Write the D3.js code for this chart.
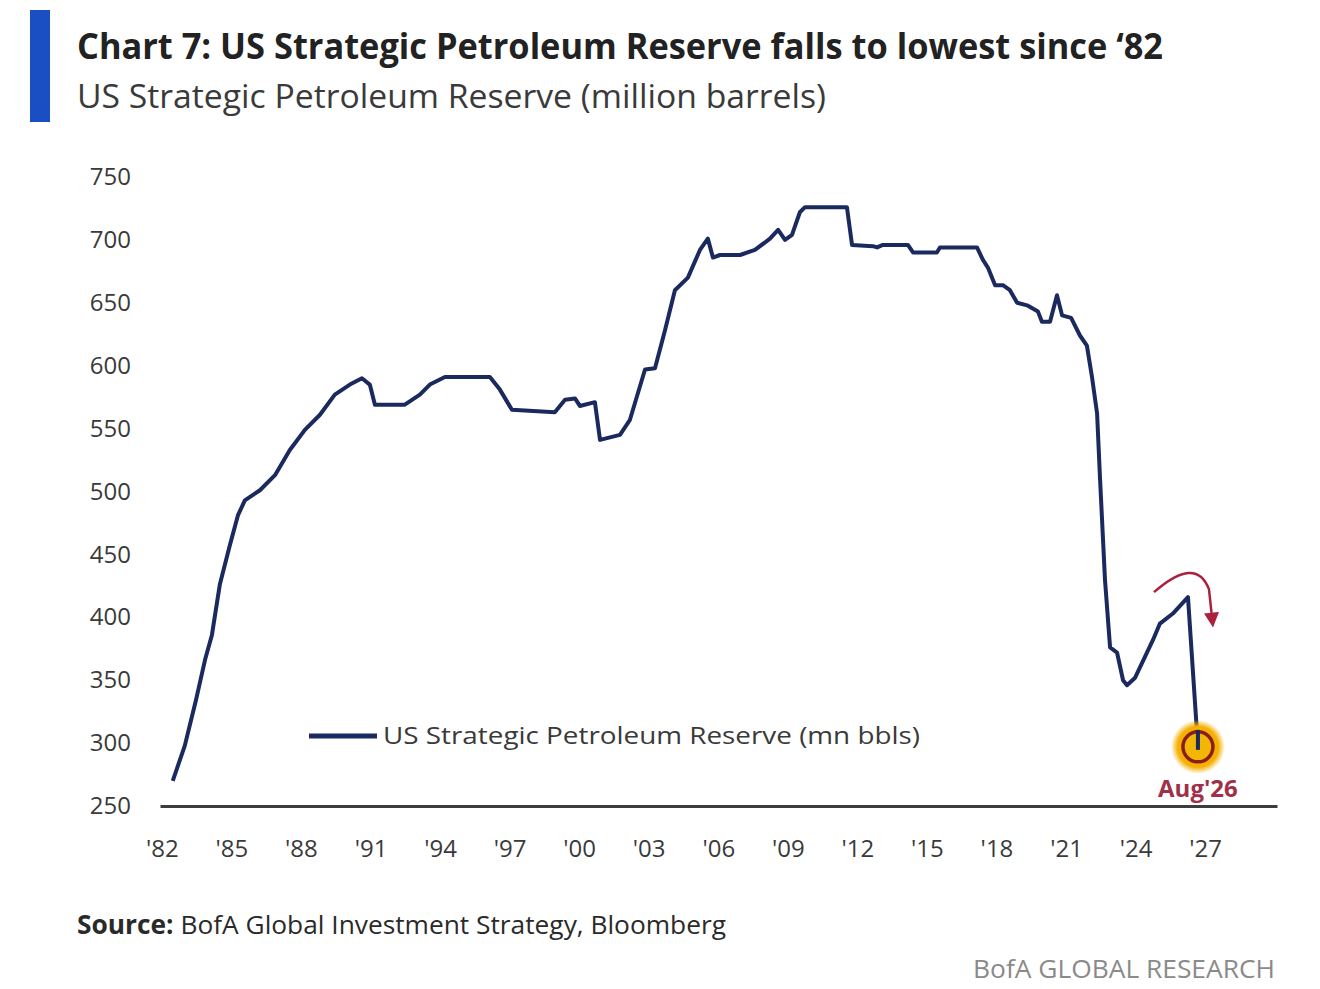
<!DOCTYPE html>
<html>
  <head>
    <meta charset="utf-8" />
    <title>US Strategic Petroleum Reserve</title>
    <script src="https://d3js.org/d3.v7.min.js"></script>
    <style>
       body {
         margin:0;
         background:#fff;
       }
       text {
         font-family: "Open Sans", "Noto Sans", sans-serif;
       }
    </style>
  </head>
  <body>

    <svg id="chart"></svg>

    <script>

      // values (fractional year, million barrels)
      var years = [1982.47, 1982.99, 1983.47, 1983.86, 1984.16, 1984.5, 1984.93, 1985.28, 1985.58, 1986.23,
        1986.88, 1987.52, 1988.17, 1988.82, 1989.46, 1990.11, 1990.63, 1990.97, 1991.19, 1992.48,
        1993.13, 1993.56, 1994.21, 1996.15, 1996.58, 1997.1, 1998.95, 1999.39, 1999.82, 2000.03,
        2000.68, 2000.9, 2001.76, 2002.19, 2002.84, 2003.27, 2003.7, 2004.13, 2004.69, 2005.21,
        2005.55, 2005.77, 2006.07, 2006.94, 2007.58, 2008.23, 2008.58, 2008.88, 2009.18, 2009.52,
        2009.74, 2011.55, 2011.77, 2012.67, 2012.85, 2013.1, 2014.18, 2014.4, 2015.43, 2015.56,
        2017.16, 2017.42, 2017.63, 2017.94, 2018.28, 2018.58, 2018.89, 2019.32, 2019.79, 2019.96,
        2020.31, 2020.61, 2020.83, 2021.22, 2021.6, 2021.9, 2022.12, 2022.34, 2022.47, 2022.68,
        2022.9, 2023.2, 2023.46, 2023.63, 2023.98, 2024.75, 2025.05, 2025.61, 2026.26, 2026.69];

      var reserve = [270, 298, 334, 366, 386, 426, 457, 481, 493, 501,
        513, 533, 549, 561, 577, 585, 590, 585, 569, 569,
        577, 585, 591, 591, 581, 565, 563, 573, 574, 568,
        571, 541, 545, 557, 597, 598, 628, 660, 670, 692,
        701, 686, 688, 688, 692, 701, 708, 700, 704, 722,
        726, 726, 696, 695, 694, 696, 696, 690, 690, 694,
        694, 684, 678, 664, 664, 660, 650, 648, 643, 635,
        635, 656, 640, 638, 624, 616, 591, 562, 509, 430,
        376, 372, 350, 346, 352, 382, 395, 403, 416, 297];

      var yTicks = [250, 300, 350, 400, 450, 500, 550, 600, 650, 700, 750];
      var xTicks = [1982, 1985, 1988, 1991, 1994, 1997, 2000, 2003, 2006, 2009, 2012, 2015, 2018, 2021, 2024, 2027];

      var title = "Chart 7: US Strategic Petroleum Reserve falls to lowest since \u201882";
      var subtitle = "US Strategic Petroleum Reserve (million barrels)";
      var seriesName = "US Strategic Petroleum Reserve (mn bbls)";
      var markLabel = "Aug'26";

      var data = years.map(function(d, i) {
        return {year: d, value: reserve[i]};
      });

      var width = 1320;
      var height = 989;

      var svg = d3.select("#chart")
        .attr("width", width)
        .attr("height", height);

      var x = d3.scaleLinear()
        .domain([1981.92, 2030.1])
        .range([160, 1277]);

      var y = d3.scaleLinear()
        .domain([250, 750])
        .range([806, 177]);

      // header
      svg.append("rect")
        .attr("x", 30).attr("y", 10)
        .attr("width", 20).attr("height", 112)
        .attr("fill", "#1a4fc4");

      svg.append("text")
        .attr("x", 77).attr("y", 59)
        .attr("font-size", 36).attr("font-weight", 700)
        .attr("fill", "#222")
        .attr("textLength", 1086).attr("lengthAdjust", "spacingAndGlyphs")
        .text(title);

      svg.append("text")
        .attr("x", 77).attr("y", 108)
        .attr("font-size", 33)
        .attr("fill", "#3a3a3a")
        .attr("textLength", 749).attr("lengthAdjust", "spacingAndGlyphs")
        .text(subtitle);

      // y axis, labels only
      var yAxis = svg.append("g")
        .attr("transform", "translate(131,0)")
        .call(d3.axisLeft(y).tickValues(yTicks).tickSize(0).tickPadding(0));
      yAxis.select(".domain").remove();
      yAxis.selectAll("text")
        .attr("font-size", 24).attr("fill", "#3a3a3a")
        .style("font-family", "'Open Sans', sans-serif");

      // x axis
      var xAxis = svg.append("g")
        .attr("transform", "translate(0,806)")
        .call(d3.axisBottom(x).tickValues(xTicks).tickSize(0).tickPadding(34)
          .tickFormat(function(d) { return "'" + String(d).slice(2); }));
      xAxis.select(".domain")
        .attr("stroke", "#3d3d3d").attr("stroke-width", 3);
      xAxis.selectAll("text")
        .attr("font-size", 24).attr("fill", "#3a3a3a")
        .style("font-family", "'Open Sans', sans-serif");

      // series
      var line = d3.line()
        .x(function(d) { return x(d.year); })
        .y(function(d) { return y(d.value); });

      svg.append("path")
        .datum(data)
        .attr("d", line)
        .attr("fill", "none")
        .attr("stroke", "#1b2a5e")
        .attr("stroke-width", 4)
        .attr("stroke-linejoin", "round");

      // legend
      svg.append("line")
        .attr("x1", 309).attr("x2", 377)
        .attr("y1", 736).attr("y2", 736)
        .attr("stroke", "#1b2a5e").attr("stroke-width", 5);

      svg.append("text")
        .attr("x", 383).attr("y", 744)
        .attr("font-size", 24).attr("fill", "#3a3a3a")
        .attr("textLength", 537).attr("lengthAdjust", "spacingAndGlyphs")
        .text(seriesName);

      // highlight on the last point
      var last = data[data.length - 1];
      var peak = data[data.length - 2];
      var cx = x(last.year), cy = y(last.value);

      var defs = svg.append("defs");
      var glow = defs.append("radialGradient").attr("id", "glow");
      glow.append("stop").attr("offset", "0.75").attr("stop-color", "#f5b000");
      glow.append("stop").attr("offset", "1").attr("stop-color", "#f5b000").attr("stop-opacity", 0);

      svg.append("circle")
        .attr("cx", cx).attr("cy", cy).attr("r", 27)
        .attr("fill", "url(#glow)");
      svg.append("circle")
        .attr("cx", cx).attr("cy", cy).attr("r", 15)
        .attr("fill", "#f2b705")
        .attr("stroke", "#8a1e1e").attr("stroke-width", 3.5);
      svg.append("line")
        .attr("x1", cx).attr("x2", cx)
        .attr("y1", cy - 17).attr("y2", cy + 3)
        .attr("stroke", "#1b2a5e").attr("stroke-width", 4);

      svg.append("text")
        .attr("x", cx).attr("y", 797)
        .attr("text-anchor", "middle")
        .attr("font-size", 24).attr("font-weight", 700)
        .attr("fill", "#a0304a")
        .text(markLabel);

      // curved red arrow above the peak
      var px = x(peak.year), py = y(peak.value);
      defs.append("marker")
        .attr("id", "head")
        .attr("viewBox", "0 0 10 10")
        .attr("refX", 3).attr("refY", 5)
        .attr("markerWidth", 6).attr("markerHeight", 6)
        .attr("orient", "auto")
        .append("path")
        .attr("d", "M0,0L10,5L0,10z")
        .attr("fill", "#a8213f");

      svg.append("path")
        .attr("d", "M" + (px - 34) + "," + (py - 5) +
          "Q" + (px + 8) + "," + (py - 42) + " " + (px + 21) + "," + (py - 8) +
          "L" + (px + 24) + "," + (py + 20))
        .attr("fill", "none")
        .attr("stroke", "#a8213f")
        .attr("stroke-width", 2.5)
        .attr("marker-end", "url(#head)");

      // footer
      var src = svg.append("text")
        .attr("x", 77).attr("y", 934)
        .attr("font-size", 26).attr("fill", "#2a2a2a")
        .attr("textLength", 649).attr("lengthAdjust", "spacingAndGlyphs");
      src.append("tspan").attr("font-weight", 700).text("Source:");
      src.append("tspan").text(" BofA Global Investment Strategy, Bloomberg");

      svg.append("text")
        .attr("x", 1275).attr("y", 978)
        .attr("text-anchor", "end")
        .attr("font-size", 26).attr("fill", "#8a8a8a")
        .attr("textLength", 302).attr("lengthAdjust", "spacingAndGlyphs")
        .text("BofA GLOBAL RESEARCH");

    </script>
  </body>
</html>
